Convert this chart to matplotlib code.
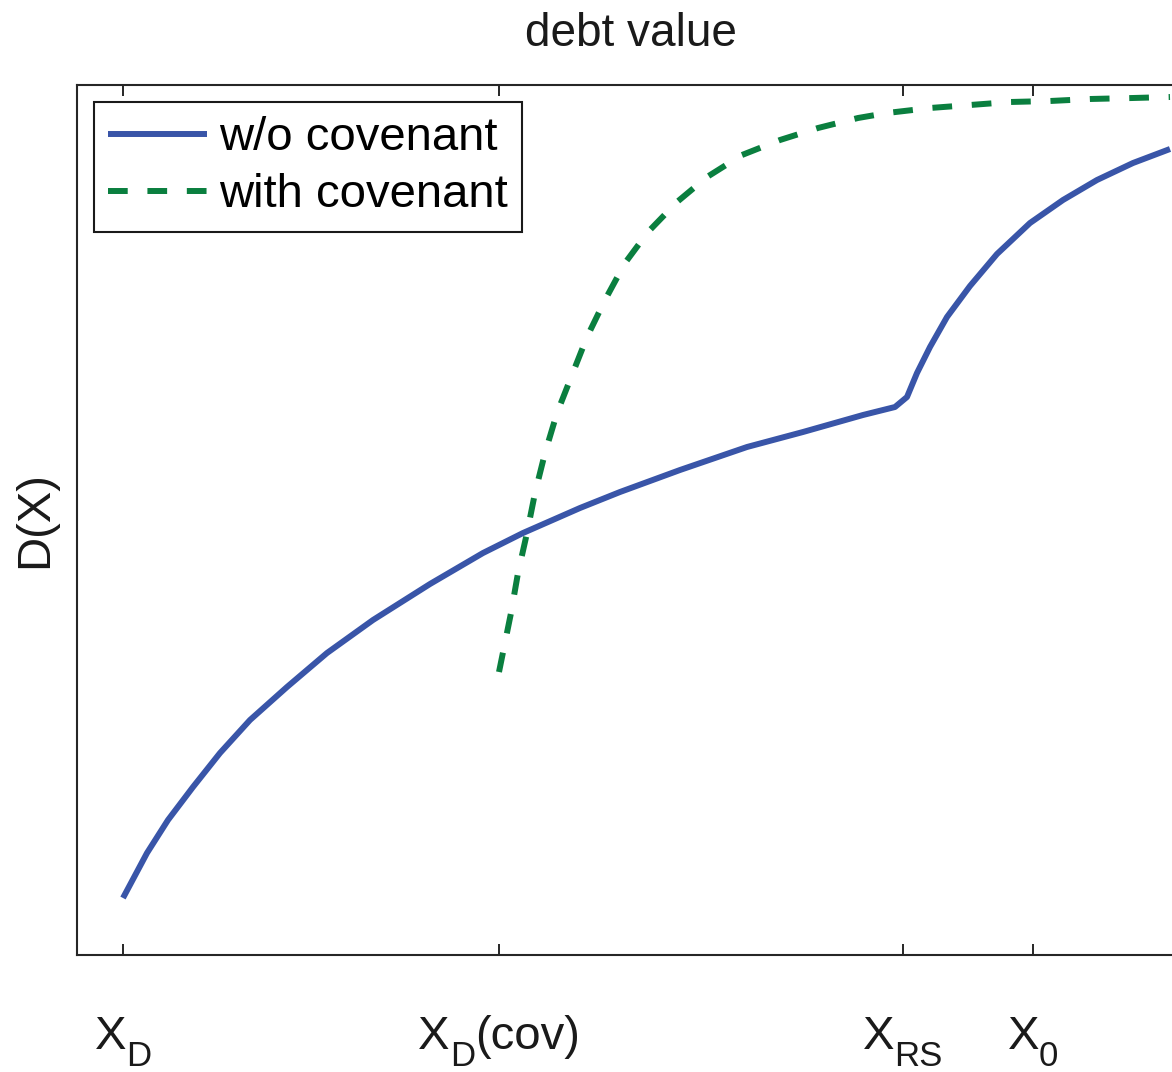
import matplotlib
matplotlib.use("Agg")
import matplotlib.pyplot as plt
from matplotlib.transforms import blended_transform_factory, offset_copy

plt.rcParams["font.family"] = ["Liberation Sans", "DejaVu Sans"]

# Debt value without covenant (kink at the restructuring threshold)
x_nocov = [1.00, 1.24, 1.45, 1.70, 1.97, 2.27, 2.64, 3.04, 3.50, 4.07, 4.60,
           5.00, 5.57, 5.97, 6.57, 7.24, 7.80, 8.40, 8.72, 8.84, 8.94, 9.07,
           9.24, 9.47, 9.74, 10.07, 10.40, 10.74, 11.10, 11.47]
d_nocov = [0.57, 1.02, 1.35, 1.68, 2.02, 2.35, 2.68, 3.02, 3.35, 3.71, 4.02,
           4.22, 4.47, 4.63, 4.85, 5.08, 5.23, 5.40, 5.48, 5.58, 5.82, 6.08,
           6.38, 6.69, 7.01, 7.32, 7.55, 7.75, 7.92, 8.06]

# Debt value with covenant (starts at the higher default threshold)
x_cov = [4.76, 4.88, 4.95, 5.04, 5.12, 5.22, 5.34, 5.47, 5.64, 5.82, 6.02,
         6.25, 6.54, 6.84, 7.19, 7.57, 7.95, 8.35, 8.64, 9.07, 9.47, 9.87,
         10.27, 10.67, 11.10, 11.47]
d_cov = [2.83, 3.42, 3.82, 4.22, 4.62, 5.02, 5.42, 5.75, 6.18, 6.55, 6.92,
         7.23, 7.53, 7.78, 8.00, 8.15, 8.27, 8.37, 8.42, 8.47, 8.50, 8.53,
         8.54, 8.56, 8.57, 8.58]

# Threshold ticks: main symbol, subscript, trailing text
tick_pos = [1.00, 4.76, 8.80, 10.10]
tick_main = ["X", "X", "X", "X"]
tick_sub = ["D", "D", "RS", "0"]
tick_suffix = ["", "(cov)", "", ""]

W, H = 1172, 1072
fig = plt.figure(figsize=(W / 100, H / 100), dpi=100)
ax = fig.add_axes([77 / W, 117 / H, (1185 - 77) / W, 870 / H])

ax.plot(x_nocov, d_nocov, color="#3955a8", lw=4.3, label="w/o covenant",
        solid_capstyle="butt", solid_joinstyle="round")
ax.plot(x_cov, d_cov, color="#0a7f3f", lw=4.3, dashes=(3.3, 3.3),
        label="with covenant", dash_capstyle="butt")

ax.set_xlim(0.54, 11.62)
ax.set_ylim(0, 8.7)

ax.set_xticks(tick_pos)
ax.set_xticklabels([""] * len(tick_pos))
ax.set_yticks([])
ax.tick_params(axis="x", direction="in", length=8, width=1.4, top=True,
               colors="#262626")

for s in ax.spines.values():
    s.set_linewidth(1.5)
    s.set_color("#262626")

ax.set_ylabel("D(X)", fontsize=34, labelpad=14, color="#1a1a1a")
ax.set_title("debt value", fontsize=33, pad=28, color="#1a1a1a")

leg = ax.legend(loc="upper left", fontsize=34, handlelength=2.1,
                handletextpad=0.25, labelspacing=0.28, borderaxespad=0.36,
                borderpad=0.3, fancybox=False, framealpha=1)
leg.get_frame().set_edgecolor("#1a1a1a")
leg.get_frame().set_linewidth(1.5)

# Tick labels with a lowered subscript, centred under each tick
base = blended_transform_factory(ax.transData, ax.transAxes)
fig.canvas.draw()
renderer = fig.canvas.get_renderer()
for xp, main, sub, suffix in zip(tick_pos, tick_main, tick_sub, tick_suffix):
    pieces = [(main, 34, -94), (sub, 25, -111), (suffix, 34, -94)]
    texts = []
    for s, fs, dy in pieces:
        if not s:
            continue
        t = ax.text(xp, 0, s, fontsize=fs, ha="left", va="baseline",
                    transform=base, clip_on=False, color="#1a1a1a")
        texts.append((t, dy))
    widths = [t.get_window_extent(renderer).width for t, _ in texts]
    x0 = -sum(widths) / 2
    for (t, dy), w in zip(texts, widths):
        t.set_transform(offset_copy(base, fig, x=x0, y=dy, units="dots"))
        x0 += w

fig.savefig("out.png", dpi=100)
